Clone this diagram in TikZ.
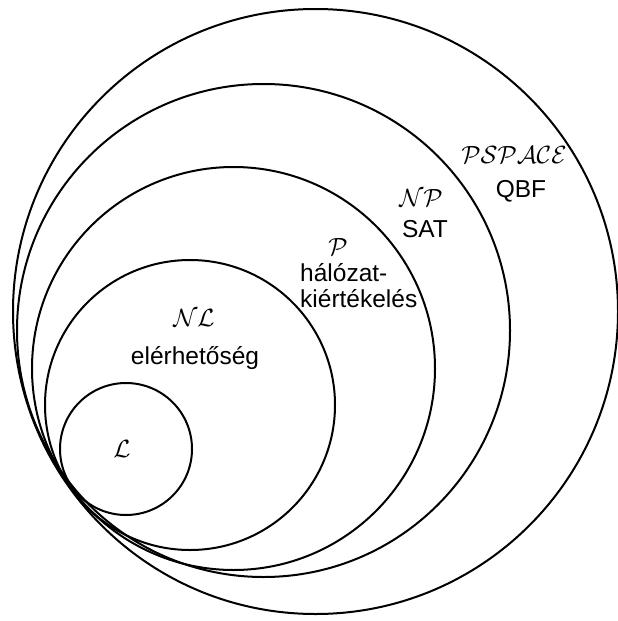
\documentclass[tikz,border=0pt]{standalone}
\usepackage{fontspec}
\setmainfont{Liberation Sans}
\begin{document}
\begin{tikzpicture}[x=1pt,y=-1pt,
  circ/.style={draw, line width=2pt},
  lbl/.style={inner sep=0pt, font=\fontsize{24.5}{27}\selectfont},
  cal/.style={inner sep=0pt, font=\fontsize{26}{28}\selectfont}]
\useasboundingbox (0,0) rectangle (618,621);
% nested classes
\draw[circ] (315.5,311.5) circle[radius=302.5pt];
\draw[circ] (263.5,330.5) circle[radius=246.5pt];
\draw[circ] (233.5,368.5) circle[radius=201.5pt];
\draw[circ] (190,405) circle[radius=145pt];
\draw[circ] (126,449) circle[radius=66pt];
% labels
\node[cal] (pspacel) at (514,155) {$\mathcal{PSPACE}$};
\node[lbl, anchor=base] (qbf) at (521,197) {QBF};
\node[cal] (npl) at (421,198) {$\mathcal{NP}$};
\node[lbl, anchor=base] (sat) at (425,237) {SAT};
\node[cal] (pl) at (338,247) {$\mathcal{P}$};
\node[lbl, anchor=base west] (halo) at (300,281) {hálózat-};
\node[lbl, anchor=base west] (kiert) at (300,307) {kiértékelés};
\node[cal] (nll) at (194,318) {$\mathcal{NL}$};
\node[lbl, anchor=base] (eler) at (195,364) {elérhetőség};
\node[cal] (ll) at (122,449) {$\mathcal{L}$};
\end{tikzpicture}
\end{document}
